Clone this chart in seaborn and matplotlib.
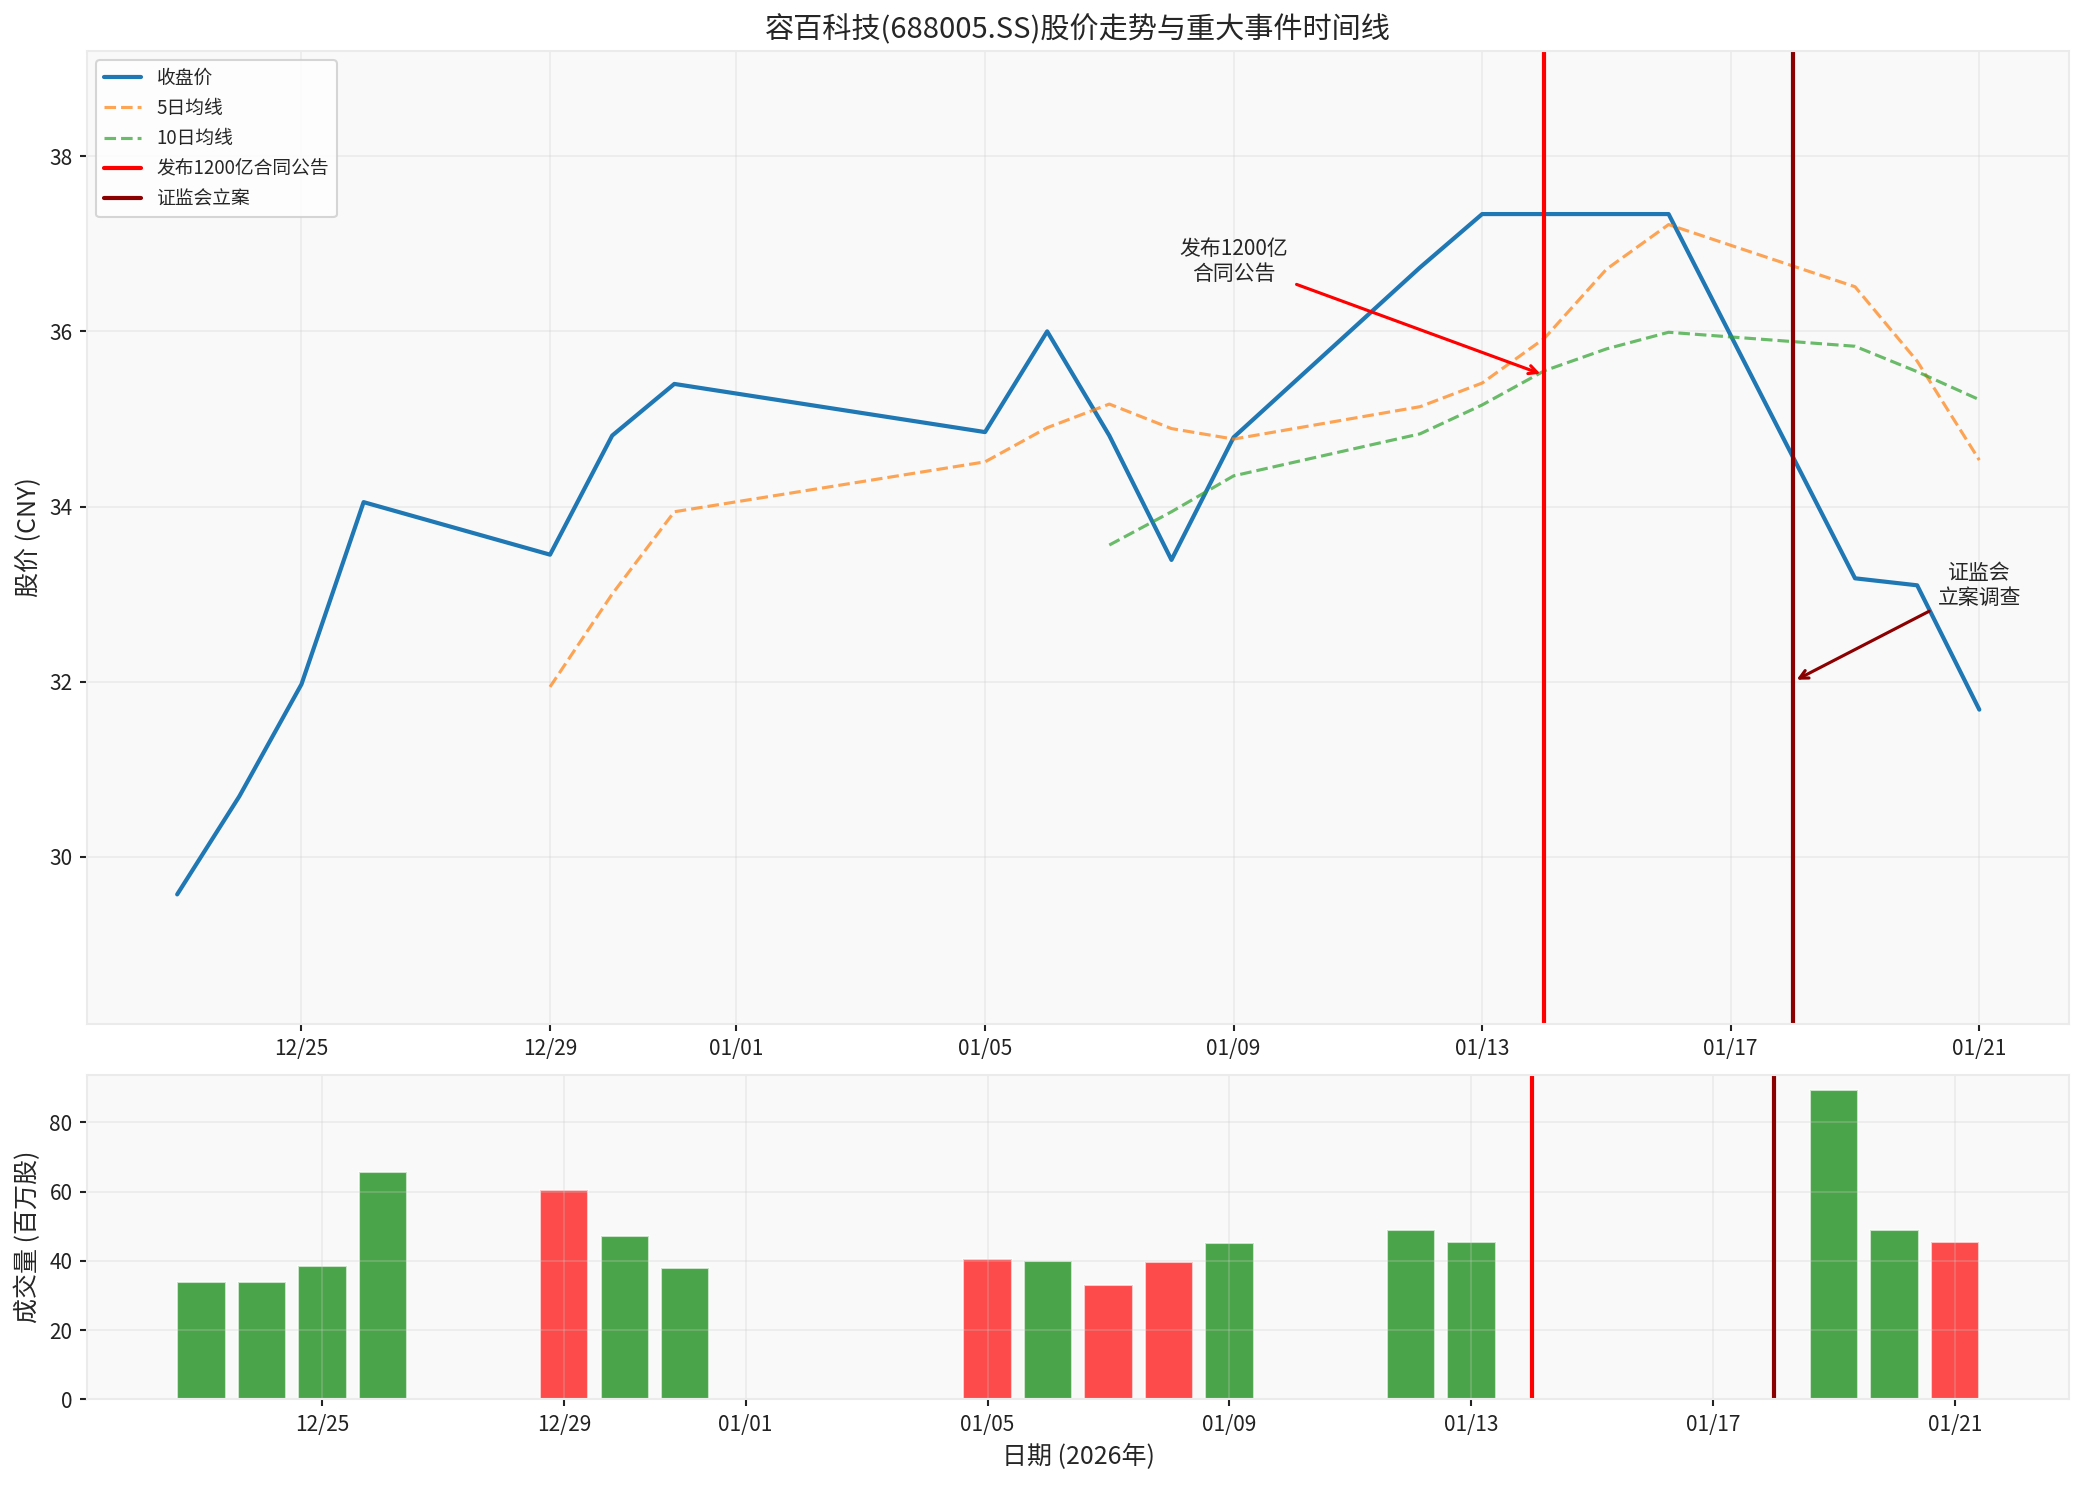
import pandas as pd
import numpy as np
import seaborn as sns
import matplotlib.pyplot as plt
import matplotlib.dates as mdates

# 交易日 (12/23 ~ 01/21)
dates = pd.to_datetime([
    "2025-12-23", "2025-12-24", "2025-12-25", "2025-12-26", "2025-12-29",
    "2025-12-30", "2025-12-31", "2026-01-05", "2026-01-06", "2026-01-07",
    "2026-01-08", "2026-01-09", "2026-01-12", "2026-01-13", "2026-01-14",
    "2026-01-15", "2026-01-16", "2026-01-19", "2026-01-20", "2026-01-21",
])
close = [29.57, 30.69, 31.97, 34.05, 33.45, 34.81, 35.40, 34.85, 36.00, 34.81,
         33.39, 34.79, 36.73, 37.34, 37.34, 37.34, 37.34, 33.18, 33.10, 31.68]
ma5 = [np.nan, np.nan, np.nan, np.nan, 31.94, 33.00, 33.94, 34.51, 34.90, 35.17,
       34.89, 34.77, 35.14, 35.41, 35.92, 36.71, 37.22, 36.51, 35.66, 34.53]
ma10 = [np.nan] * 9 + [33.56, 33.94, 34.35, 34.83, 35.16, 35.55, 35.80, 35.99,
                       35.83, 35.54, 35.22]
# 成交量 (百万股)
volume = [33.9, 33.9, 38.5, 65.6, 60.4, 47.3, 38.0, 40.6, 40.0, 33.0,
          39.7, 45.2, 49.0, 45.5, 0, 0, 0, 89.2, 49.0, 45.5]
bar_colors = ["green", "green", "green", "green", "red", "green", "green", "red",
              "green", "red", "red", "green", "green", "green", "green", "green",
              "green", "green", "green", "red"]

events = [
    ("2026-01-14", "发布1200亿合同公告", "red"),
    ("2026-01-18", "证监会立案", "darkred"),
]

sns.set_style("ticks")
plt.rcParams["font.family"] = ["Noto Sans CJK SC", "DejaVu Sans"]
plt.rcParams["axes.unicode_minus"] = False
plt.rcParams["axes.axisbelow"] = "line"

df = pd.DataFrame({"date": dates, "close": close, "ma5": ma5, "ma10": ma10,
                   "volume": volume})

fig, (ax1, ax2) = plt.subplots(2, 1, figsize=(2084 / 150, 1485 / 150), dpi=150,
                               gridspec_kw={"height_ratios": [3, 1]})

# 股价 + 均线
sns.lineplot(data=df, x="date", y="close", ax=ax1, color="#1f77b4", lw=2, label="收盘价")
sns.lineplot(data=df, x="date", y="ma5", ax=ax1, color="tab:orange", lw=1.5,
             linestyle="--", alpha=0.7, label="5日均线")
sns.lineplot(data=df, x="date", y="ma10", ax=ax1, color="tab:green", lw=1.5,
             linestyle="--", alpha=0.7, label="10日均线")

for d, name, c in events:
    ax1.axvline(pd.Timestamp(d), color=c, lw=2, label=name)
    ax2.axvline(pd.Timestamp(d), color=c, lw=2)

ax1.annotate("发布1200亿\n合同公告",
             xy=(mdates.date2num(pd.Timestamp("2026-01-14")), 35.5),
             xytext=(mdates.date2num(pd.Timestamp("2026-01-09")), 36.8),
             ha="center", va="center", fontsize=10,
             arrowprops=dict(arrowstyle="->", color="red", lw=1.5))
ax1.annotate("证监会\n立案调查",
             xy=(mdates.date2num(pd.Timestamp("2026-01-18")), 32.0),
             xytext=(mdates.date2num(pd.Timestamp("2026-01-21")), 33.1),
             ha="center", va="center", fontsize=10,
             arrowprops=dict(arrowstyle="->", color="darkred", lw=1.5))

ax1.set_ylim(min(close) * 0.95, max(close) * 1.05)
ax1.set_title("容百科技(688005.SS)股价走势与重大事件时间线", fontsize=14)
ax1.set_ylabel("股价 (CNY)", fontsize=12)
ax1.set_xlabel("")
ax1.legend(loc="upper left", fontsize=9)

# 成交量
ax2.bar(df["date"], df["volume"], color=bar_colors, alpha=0.7, width=0.8)
ax2.set_ylabel("成交量 (百万股)", fontsize=12)
ax2.set_xlabel("日期 (2026年)", fontsize=12)

for ax in (ax1, ax2):
    ax.set_facecolor("#f9f9f9")
    ax.grid(True, alpha=0.3)
    ax.xaxis.set_major_locator(mdates.DayLocator(bymonthday=range(1, 32, 4)))
    ax.xaxis.set_major_formatter(mdates.DateFormatter("%m/%d"))
    ax.tick_params(length=3.5, width=1, labelsize=10, colors="#222222")
    for s in ax.spines.values():
        s.set_color("#ebebeb")
        s.set_linewidth(1)

fig.tight_layout(pad=0.7)
fig.savefig("out.png", dpi=150)
